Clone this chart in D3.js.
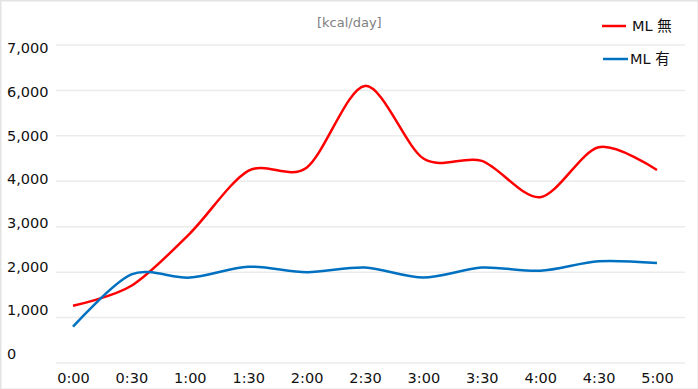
<!DOCTYPE html>
<html>
<head>
<meta charset="utf-8">
<script src="https://cdn.jsdelivr.net/npm/d3@7"></script>
<style>
  body { margin: 0; background: #fff; }
  text { font-family: "DejaVu Sans", Verdana, sans-serif; }
</style>
</head>
<body>
<div id="chart"></div>
<script>
// data
var times = ["0:00", "0:30", "1:00", "1:30", "2:00", "2:30", "3:00", "3:30", "4:00", "4:30", "5:00"];
var mlOff = [1260, 1700, 2850, 4230, 4300, 6100, 4500, 4450, 3650, 4750, 4250];
var mlOn = [800, 1950, 1880, 2120, 2000, 2100, 1880, 2100, 2030, 2240, 2200];
var yTicks = [0, 1000, 2000, 3000, 4000, 5000, 6000, 7000];

var svgWidth = 698;
var svgHeight = 389;

var svg = d3.select("#chart")
  .append("svg")
  .attr("width", svgWidth)
  .attr("height", svgHeight);

// frame
svg.append("rect")
  .attr("x", 0.5).attr("y", 0.5)
  .attr("width", svgWidth).attr("height", svgHeight)
  .attr("fill", "none")
  .attr("stroke", "#e3e3e3")
  .attr("stroke-width", 2);

// scales
var x = d3.scalePoint()
  .domain(times)
  .range([73, 657]);

var y = d3.scaleLinear()
  .domain([0, 7000])
  .range([363, 45]);

// tick labels sit on a slightly tighter spacing than the gridlines
var yLabel = d3.scaleLinear()
  .domain([0, 7000])
  .range([354, 48]);

// gridlines
svg.append("g")
  .selectAll("line")
  .data(yTicks)
  .enter()
  .append("line")
  .attr("x1", 56)
  .attr("x2", 685)
  .attr("y1", d => y(d))
  .attr("y2", d => y(d))
  .attr("stroke", "#ebebeb")
  .attr("stroke-width", 1.5);

// y labels
svg.append("g")
  .selectAll("text")
  .data(yTicks)
  .enter()
  .append("text")
  .attr("x", 7)
  .attr("y", d => yLabel(d))
  .attr("dy", "0.35em")
  .attr("font-size", "14.5px")
  .attr("fill", "#111")
  .text(d => d3.format(",")(d));

// x axis labels
var bottomAxis = d3.axisBottom(x).tickSize(0).tickPadding(0);
var xg = svg.append("g")
  .attr("transform", "translate(0, 373)")
  .call(bottomAxis);
xg.select(".domain").remove();
xg.selectAll("text")
  .attr("font-size", "14.5px")
  .attr("fill", "#111")
  .attr("dy", "0.71em")
  .style("font-family", "'DejaVu Sans', Verdana, sans-serif");

// lines
var line = d3.line()
  .x((d, i) => x(times[i]))
  .y(d => y(d))
  .curve(d3.curveCardinal.tension(0.1));

svg.append("path")
  .datum(mlOff)
  .attr("d", line)
  .attr("fill", "none")
  .attr("stroke", "#ff0000")
  .attr("stroke-width", 2.5);

svg.append("path")
  .datum(mlOn)
  .attr("d", line)
  .attr("fill", "none")
  .attr("stroke", "#0070c0")
  .attr("stroke-width", 2.5);

// unit label
svg.append("text")
  .attr("x", 317)
  .attr("y", 22)
  .attr("dy", "0.35em")
  .attr("font-size", "13px")
  .attr("fill", "#808080")
  .text("[kcal/day]");

// legend
var legend = [
  { name: "ML 無", color: "#ff0000", y: 26, x1: 602, x2: 626, tx: 632 },
  { name: "ML 有", color: "#0070c0", y: 59, x1: 603, x2: 628, tx: 630 }
];
var lg = svg.append("g").selectAll("g").data(legend).enter().append("g");
lg.append("line")
  .attr("x1", d => d.x1).attr("x2", d => d.x2)
  .attr("y1", d => d.y).attr("y2", d => d.y)
  .attr("stroke", d => d.color)
  .attr("stroke-width", 2.5);
lg.append("text")
  .attr("x", d => d.tx)
  .attr("y", d => d.y)
  .attr("dy", "0.35em")
  .attr("font-size", "14.5px")
  .attr("fill", "#111")
  .style("font-family", "'DejaVu Sans', 'Noto Sans CJK JP', sans-serif")
  .text(d => d.name);
</script>
</body>
</html>
